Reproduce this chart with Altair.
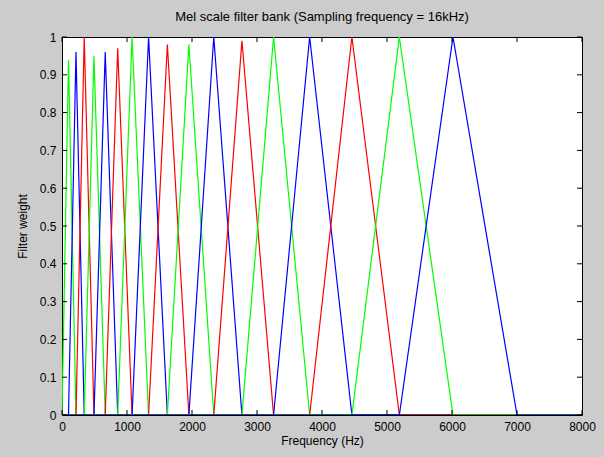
import altair as alt
import pandas as pd

# Filter edge/centre frequencies (Hz)
centers = [0, 100, 215, 342, 492, 665, 857, 1078, 1332, 1621, 1952,
           2335, 2768, 3255, 3810, 4460, 5190, 6015, 7000]
# Peak heights of the 17 filters
peaks = [0.94, 0.96, 1.0, 0.95, 0.96, 0.97, 1.0, 1.0, 0.98, 0.98,
         1.0, 0.99, 1.0, 1.0, 1.0, 1.0, 1.0]
# Colour cycle of the filters, left to right
colors = ["g", "b", "r"]
x_ticks = [0, 1000, 2000, 3000, 4000, 5000, 6000, 7000, 8000]
y_ticks = [0, 0.1, 0.2, 0.3, 0.4, 0.5, 0.6, 0.7, 0.8, 0.9, 1.0]
F_MAX = 8000

rows = []
for i, h in enumerate(peaks):
    s, c, e = centers[i], centers[i + 1], centers[i + 2]
    pts = []
    if s > 0:
        pts.append((0, 0))
    pts += [(s, 0), (c, h), (e, 0), (F_MAX, 0)]
    for k, (f, w) in enumerate(pts):
        rows.append({"filt": i, "seq": k, "f": f, "w": w,
                     "col": colors[i % 3]})
df = pd.DataFrame(rows)

W, H = 520, 378
xs = alt.Scale(domain=[0, 8000], nice=False)
ys = alt.Scale(domain=[0, 1], nice=False)
font = "Liberation Sans"

x_axis = alt.Axis(values=x_ticks, format="d", title="Frequency (Hz)",
                  grid=False, ticks=False, domain=False, labelPadding=6,
                  labelFontSize=12, labelFont=font, labelColor="black",
                  labelFlush=False,
                  titleFont=font, titleFontSize=12, titleFontWeight="normal",
                  titleColor="black", titlePadding=3)
y_axis = alt.Axis(values=y_ticks, format="~g", title="Filter weight",
                  grid=False, ticks=False, domain=False, labelPadding=6,
                  labelFontSize=12, labelFont=font, labelColor="black",
                  titleFont=font, titleFontSize=12, titleFontWeight="normal",
                  titleColor="black", titlePadding=10,
                  labelFlush=False)

lines = alt.Chart(df).mark_line(strokeWidth=1.2, clip=True).encode(
    x=alt.X("f:Q", scale=xs, axis=x_axis),
    y=alt.Y("w:Q", scale=ys, axis=y_axis),
    color=alt.Color("col:N", scale=alt.Scale(domain=["g", "b", "r"],
                    range=["#00ff00", "#0000ff", "#ff0000"]), legend=None),
    detail="filt:N",
    order="seq:Q",
)

xt = pd.DataFrame({"v": x_ticks})
yt = pd.DataFrame({"v": y_ticks})
TL = 5
tick_bottom = alt.Chart(xt).mark_rule(color="black", strokeWidth=1).encode(
    x=alt.X("v:Q", scale=xs, axis=x_axis), y=alt.value(H), y2=alt.value(H - TL))
tick_top = alt.Chart(xt).mark_rule(color="black", strokeWidth=1).encode(
    x=alt.X("v:Q", scale=xs, axis=x_axis), y=alt.value(0), y2=alt.value(TL))
tick_left = alt.Chart(yt).mark_rule(color="black", strokeWidth=1).encode(
    y=alt.Y("v:Q", scale=ys, axis=y_axis), x=alt.value(0), x2=alt.value(TL))
tick_right = alt.Chart(yt).mark_rule(color="black", strokeWidth=1).encode(
    y=alt.Y("v:Q", scale=ys, axis=y_axis), x=alt.value(W), x2=alt.value(W - TL))

chart = alt.layer(lines, tick_bottom, tick_top, tick_left, tick_right).properties(
    width=W, height=H,
    title=alt.TitleParams("Mel scale filter bank (Sampling frequency = 16kHz)",
                          font=font, fontSize=13, fontWeight="normal",
                          color="black", anchor="middle", offset=7),
    autosize=alt.AutoSizeParams(type="none"),
    padding={"left": 62, "top": 37, "right": 22, "bottom": 42},
    background="#cccccc",
).configure_view(stroke="black", strokeWidth=1, fill="white")

chart.save("out.html", embed_options={"renderer": "svg", "actions": False})
